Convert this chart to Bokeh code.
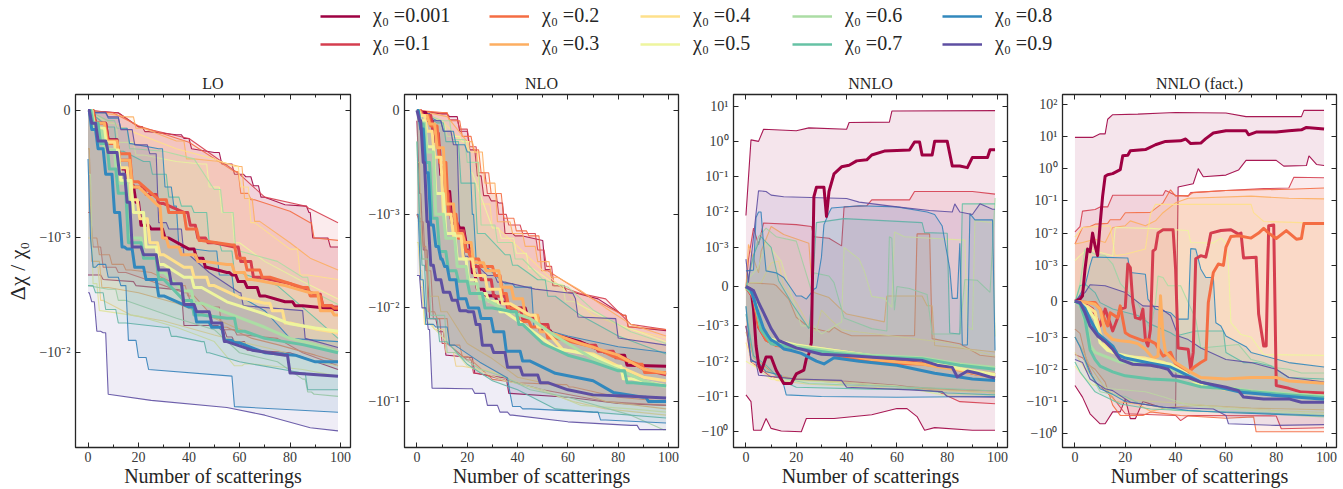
import math
from bokeh.embed import file_html
from bokeh.resources import INLINE
from bokeh.plotting import figure
from bokeh.layouts import column, row
from bokeh.models import Range1d, LinearAxis, FixedTicker, Legend, LegendItem

CHI = ["0.001", "0.1", "0.2", "0.3", "0.4", "0.5", "0.6", "0.7", "0.8", "0.9"]
KEYS = ["001", "01", "02", "03", "04", "05", "06", "07", "08", "09"]
COLORS = ["#9e0142", "#d53e4f", "#f46d43", "#fdae61", "#fee08b", "#eef59e", "#abdda4", "#66c2a5", "#3288bd", "#5e4fa2"]
PANELS = ["LO", "NLO", "NNLO", "NNLO (fact.)"]
XTICKS = [0, 20, 40, 60, 80, 100]
XMINOR = [10, 30, 50, 70, 90]
YT_LO = [0, -1e-3, -1e-2]
YT_NLO = [0, -1e-3, -1e-2, -1e-1]
YT_NN = [10, 1, 1e-1, 1e-2, 1e-3, 0, -1e-3, -1e-2, -1e-1, -1]
YT_FA = [100, 10, 1, 1e-1, 1e-2, 1e-3, 0, -1e-3, -1e-2, -1e-1, -1]
SUP = {10: "10¹", 100: "10²", 1: "10⁰", 1e-1: "10⁻¹", 1e-2: "10⁻²", 1e-3: "10⁻³"}

# ---------- LO ----------
LO_001_HI = [(0,0),(12,-1.8e-5),(20,-1.27e-4),(24,-1.66e-4),(35,-1.9e-4),(40,-2.2e-4),(41,-3e-4),(50,-3.3e-4),(55,-4.2e-4),(60,-5e-4),(64,-5.2e-4),(66,-5.9e-4),(70,-6.8e-4),(78,-7.4e-4),(86,-7.5e-4),(88,-8e-4),(89,-1e-3),(92,-1e-3),(99,-1.2e-3)]
LO_001_LO = [(0,-2.1e-3),(5,-2.1e-3),(6,-2.3e-3),(18,-2.4e-3),(19,-2.6e-3),(37,-2.85e-3),(38,-5.8e-3),(50,-5.8e-3),(54,-6.3e-3),(55,-7.3e-3),(60,-8e-3),(65,-9.5e-3),(80,-1e-2),(99,-1.4e-2)]
LO_001_MED = [(0,0),(5,-1e-4),(10,-2.3e-4),(14,-4.6e-4),(17,-5.9e-4),(20,-7.2e-4),(21,-9e-4),(28,-9.3e-4),(32,-1e-3),(40,-1.25e-3),(45,-1.5e-3),(47,-1.8e-3),(55,-2e-3),(58,-2.1e-3),(60,-2.4e-3),(65,-2.7e-3),(70,-3.2e-3),(78,-3.6e-3),(85,-3.9e-3),(95,-4.1e-3),(99,-4.2e-3)]
LO_01_HI = [(0,0),(12,-2e-5),(20,-1.3e-4),(40,-2.2e-4),(60,-5e-4),(70,-6.8e-4),(86,-7.5e-4),(88,-7.7e-4),(99,-8.8e-4)]
LO_01_LO = [(0,-8e-4),(3,-1.2e-3),(8,-1.8e-3),(15,-2e-3),(30,-2.6e-3),(38,-3e-3),(42,-3.6e-3),(50,-4e-3),(55,-6.3e-3),(62,-7e-3),(75,-7.5e-3),(85,-1e-2),(99,-1.3e-2)]
LO_01_MED = [(0,0),(5,-1e-4),(10,-2.4e-4),(14,-3.9e-4),(20,-6e-4),(25,-6.6e-4),(30,-7.3e-4),(38,-8e-4),(42,-9e-4),(44,-1e-3),(50,-1.1e-3),(58,-1.2e-3),(62,-1.6e-3),(68,-2.2e-3),(80,-2.5e-3),(90,-3.1e-3),(95,-3.9e-3),(99,-4e-3)]
LO_02_HI = [(0,0),(10,-2e-5),(20,-1.2e-4),(40,-2.5e-4),(58,-4.8e-4),(62,-6.5e-4),(66,-7e-4),(80,-7.9e-4),(88,-8.8e-4),(90,-1e-3),(99,-1.05e-3)]
LO_02_LO = [(0,-3e-4),(2,-1e-3),(6,-1.4e-3),(12,-1.7e-3),(17,-1.9e-3),(25,-2e-3),(36,-2.6e-3),(42,-3.2e-3),(50,-5e-3),(55,-6e-3),(65,-7.5e-3),(75,-8.5e-3),(90,-1.05e-2),(99,-1.2e-2)]
LO_02_MED = [(0,0),(5,-1.6e-4),(10,-2.6e-4),(14,-3.4e-4),(20,-5.6e-4),(28,-7e-4),(35,-8e-4),(42,-9.3e-4),(45,-1.05e-3),(57,-1.15e-3),(60,-1.5e-3),(65,-1.9e-3),(72,-2.2e-3),(85,-2.7e-3),(90,-3.2e-3),(95,-3.9e-3),(99,-4.1e-3)]
LO_03_HI = [(0,0),(15,-5e-5),(22,-1.4e-4),(35,-2.4e-4),(42,-3.8e-4),(52,-4e-4),(60,-4.4e-4),(63,-6.9e-4),(68,-8.7e-4),(80,-1.1e-3),(88,-1.5e-3),(99,-1.9e-3)]
LO_03_LO = [(0,-3e-4),(2,-1.6e-3),(8,-2.7e-3),(20,-3e-3),(35,-3.7e-3),(50,-5e-3),(58,-6e-3),(70,-7.5e-3),(85,-8.5e-3),(99,-1e-2)]
LO_03_MED = [(0,0),(4,-1e-4),(10,-2.4e-4),(14,-3.9e-4),(20,-6e-4),(28,-7.5e-4),(30,-1e-3),(33,-1.2e-3),(40,-1.4e-3),(46,-1.6e-3),(55,-1.7e-3),(60,-2e-3),(65,-2.3e-3),(78,-2.6e-3),(88,-3e-3),(95,-4.3e-3),(99,-4.7e-3)]
LO_04_HI = [(0,0),(10,-1e-4),(18,-1.7e-4),(35,-3e-4),(50,-3.8e-4),(58,-4.4e-4),(62,-6e-4),(66,-8.8e-4),(80,-1.25e-3),(87,-2.1e-3),(99,-2.3e-3)]
LO_04_LO = [(0,-1e-3),(3,-1.8e-3),(6,-3.5e-3),(17,-4.7e-3),(30,-5.3e-3),(50,-7e-3),(60,-8e-3),(75,-9.5e-3),(90,-1.2e-2),(99,-1.3e-2)]
LO_04_MED = [(0,0),(4,-1.4e-4),(8,-2.5e-4),(14,-4.5e-4),(18,-7e-4),(22,-8.5e-4),(26,-1.1e-3),(30,-1.4e-3),(38,-1.8e-3),(45,-2.2e-3),(50,-2.6e-3),(60,-3.3e-3),(70,-3.7e-3),(75,-4.3e-3),(80,-5.5e-3),(90,-6.2e-3),(99,-6.7e-3)]
LO_05_HI = [(0,0),(8,-1e-4),(15,-2.5e-4),(22,-3.5e-4),(35,-4e-4),(45,-4.2e-4),(50,-6e-4),(55,-8e-4),(60,-1.1e-3),(70,-1.6e-3),(85,-2.4e-3),(99,-3.4e-3)]
LO_05_LO = [(0,-5e-4),(3,-2.5e-3),(5,-4.3e-3),(20,-4.8e-3),(35,-6e-3),(50,-8e-3),(58,-1.3e-2),(65,-1.25e-2),(85,-1.4e-2),(99,-1.6e-2)]
LO_05_MED = [(0,0),(4,-1.4e-4),(10,-3.1e-4),(15,-5.5e-4),(20,-8e-4),(25,-1.2e-3),(30,-1.7e-3),(38,-2.2e-3),(45,-2.7e-3),(55,-3.6e-3),(70,-4.6e-3),(80,-5.6e-3),(90,-6.1e-3),(99,-6.5e-3)]
LO_06_HI = [(0,0),(8,-8e-5),(14,-1.4e-4),(18,-3e-4),(30,-3.2e-4),(42,-3.8e-4),(50,-6.2e-4),(56,-8e-4),(60,-1.3e-3),(75,-1.6e-3),(85,-2.2e-3),(90,-3e-3),(99,-3.8e-3)]
LO_06_LO = [(0,-2.6e-3),(8,-2.8e-3),(15,-3.5e-3),(35,-5e-3),(50,-6.3e-3),(60,-1e-2),(75,-1.2e-2),(85,-1.7e-2),(88,-2.2e-2),(90,-2.3e-2),(99,-2.4e-2)]
LO_06_MED = [(0,0),(4,-1.6e-4),(8,-3.1e-4),(14,-5.7e-4),(18,-1e-3),(25,-1.4e-3),(30,-2e-3),(38,-2.9e-3),(45,-3.7e-3),(55,-4.5e-3),(70,-6e-3),(80,-7.5e-3),(90,-8.5e-3),(99,-9.8e-3)]
LO_07_HI = [(0,0),(8,-1.3e-4),(14,-3.2e-4),(22,-4e-4),(28,-5e-4),(35,-6.8e-4),(38,-7.5e-4),(45,-8e-4),(50,-1.1e-3),(55,-1.3e-3),(60,-2e-3),(75,-2.6e-3),(90,-5e-3),(99,-7.5e-3)]
LO_07_LO = [(0,-2.6e-3),(5,-3e-3),(8,-4.2e-3),(15,-5.5e-3),(30,-6e-3),(35,-7.2e-3),(45,-8e-3),(48,-1e-2),(60,-1.2e-2),(85,-1.5e-2),(88,-2.1e-2),(99,-2.1e-2)]
LO_07_MED = [(0,0),(3,-1e-4),(6,-2.6e-4),(10,-4.6e-4),(13,-6.5e-4),(18,-1.1e-3),(25,-1.5e-3),(30,-2.3e-3),(38,-3.5e-3),(45,-4.7e-3),(55,-5e-3),(62,-6.5e-3),(70,-7.5e-3),(85,-8.5e-3),(99,-1e-2)]
LO_08_HI = [(0,0),(5,-2e-5),(10,-6e-5),(15,-1.4e-4),(17,-2.6e-4),(28,-3e-4),(32,-6e-4),(35,-7.5e-4),(36,-1.2e-3),(48,-1.3e-3),(55,-2.1e-3),(60,-3.2e-3),(70,-4.3e-3),(80,-7.5e-3),(99,-8e-3)]
LO_08_LO = [(0,-3.8e-4),(1,-1e-3),(2,-1.8e-3),(5,-1.7e-3),(10,-2.2e-3),(15,-2.6e-3),(16,-7.8e-3),(23,-1.1e-2),(24,-1.4e-2),(57,-1.6e-2),(58,-2.95e-2),(99,-3.3e-2)]
LO_08_MED = [(0,0),(2,-1.5e-4),(5,-3e-4),(8,-5e-4),(12,-8e-4),(14,-1.2e-3),(16,-1.25e-3),(20,-1.8e-3),(25,-2.3e-3),(30,-3.2e-3),(40,-4e-3),(45,-5.4e-3),(52,-6e-3),(55,-7.8e-3),(60,-8.2e-3),(70,-1e-2),(82,-1.05e-2),(90,-1.2e-2),(99,-1.2e-2)]
LO_09_HI = [(0,0),(5,-1.5e-5),(10,-5e-5),(15,-1.5e-4),(21,-2.7e-4),(27,-3.4e-4),(28,-8.8e-4),(35,-9.3e-4),(40,-1.4e-3),(48,-2e-3),(60,-3e-3),(62,-3.9e-3),(85,-4.3e-3),(86,-7.5e-3),(99,-9e-3)]
LO_09_LO = [(0,-3e-3),(2,-3.6e-3),(4,-6.5e-3),(7,-6.7e-3),(8,-2.3e-2),(25,-2.6e-2),(55,-3e-2),(70,-3.5e-2),(88,-4.5e-2),(99,-4.8e-2)]
LO_09_MED = [(0,0),(2,-1e-4),(5,-2.4e-4),(10,-3.3e-4),(14,-5e-4),(16,-7.2e-4),(18,-1.2e-3),(25,-1.4e-3),(30,-1.9e-3),(35,-2.5e-3),(40,-3.8e-3),(45,-4.4e-3),(52,-5.5e-3),(55,-8e-3),(65,-9.5e-3),(78,-1.05e-2),(81,-1.5e-2),(99,-1.6e-2)]

# ---------- NLO ----------
NLO_001_HI = [(0,0),(10,-3.5e-5),(15,-6e-5),(18,-2e-4),(23,-3.8e-4),(24,-6.3e-4),(28,-8.2e-4),(30,-8.7e-4),(34,-8.9e-4),(35,-1.6e-3),(42,-1.7e-3),(50,-1.9e-3),(51,-3.9e-3),(56,-5.8e-3),(62,-6.8e-3),(72,-8e-3),(82,-1.2e-2),(85,-1.6e-2),(99,-1.75e-2)]
NLO_001_LO = [(0,-1e-4),(1,-8e-4),(3,-2.4e-3),(6,-1.3e-2),(10,-1.8e-2),(12,-3.2e-2),(22,-3.4e-2),(23,-5e-2),(35,-5.6e-2),(37,-8.2e-2),(60,-9e-2),(80,-1.05e-1),(99,-1.1e-1)]
NLO_001_MED = [(0,0),(3,-2e-5),(5,-1e-4),(8,-3e-4),(10,-6.2e-4),(12,-7.8e-4),(15,-1.25e-3),(18,-1.4e-3),(20,-2e-3),(23,-4.2e-3),(24,-6.3e-3),(30,-7.4e-3),(33,-8.7e-3),(40,-1e-2),(47,-1.25e-2),(50,-1.75e-2),(57,-2e-2),(65,-2.3e-2),(75,-3e-2),(82,-3.2e-2),(84,-4.1e-2),(99,-4.2e-2)]
NLO_01_HI = [(0,0),(10,-3e-5),(15,-9e-5),(18,-1.8e-4),(23,-3.5e-4),(25,-6e-4),(30,-8e-4),(34,-1e-3),(38,-1.3e-3),(45,-1.6e-3),(50,-2.4e-3),(52,-3.6e-3),(56,-5.8e-3),(65,-7e-3),(75,-8e-3),(85,-1.5e-2),(99,-1.7e-2)]
NLO_01_LO = [(0,-1e-3),(1,-1.2e-3),(5,-4e-3),(7,-1.3e-2),(12,-2.4e-2),(20,-3.6e-2),(24,-5e-2),(36,-6e-2),(50,-7.5e-2),(75,-1e-1),(99,-1.1e-1)]
NLO_01_MED = [(0,0),(4,-5e-5),(8,-2.2e-4),(10,-5.5e-4),(12,-8e-4),(14,-1.1e-3),(18,-1.5e-3),(20,-2.4e-3),(23,-3.6e-3),(27,-5e-3),(33,-7.5e-3),(38,-1e-2),(45,-1.3e-2),(50,-1.5e-2),(55,-2e-2),(68,-2.5e-2),(75,-2.9e-2),(82,-3.4e-2),(90,-4.5e-2),(99,-5.2e-2)]
NLO_02_HI = [(0,0),(10,-2e-5),(15,-1e-4),(20,-2.5e-4),(24,-3.8e-4),(26,-6e-4),(32,-8e-4),(36,-1.1e-3),(42,-1.5e-3),(46,-1.7e-3),(52,-4e-3),(60,-5.5e-3),(68,-7.5e-3),(82,-1.2e-2),(85,-1.6e-2),(99,-1.7e-2)]
NLO_02_LO = [(0,-1e-3),(1,-1.1e-3),(3,-2.2e-3),(5,-1.1e-2),(10,-1.3e-2),(15,-2.5e-2),(20,-3.3e-2),(30,-5.8e-2),(40,-6.3e-2),(58,-6.6e-2),(62,-7e-2),(80,-9e-2),(99,-1e-1)]
NLO_02_MED = [(0,0),(3,-5e-5),(7,-1.5e-4),(10,-5e-4),(14,-1e-3),(18,-1.8e-3),(20,-2.5e-3),(22,-3e-3),(28,-3.6e-3),(33,-4.5e-3),(34,-7e-3),(38,-1e-2),(42,-1.4e-2),(48,-1.6e-2),(55,-2.1e-2),(70,-2.6e-2),(78,-3.3e-2),(88,-4e-2),(92,-4.9e-2),(99,-4.9e-2)]
NLO_03_HI = [(0,0),(12,-6e-5),(20,-3e-4),(25,-4e-4),(28,-7e-4),(35,-1.2e-3),(40,-1.6e-3),(45,-2.2e-3),(50,-3.2e-3),(56,-4.7e-3),(65,-6.5e-3),(75,-1e-2),(85,-1.5e-2),(99,-2e-2)]
NLO_03_LO = [(0,-5e-4),(3,-3e-3),(6,-7.5e-3),(12,-1.1e-2),(20,-2.4e-2),(30,-3.5e-2),(40,-5.5e-2),(50,-6.3e-2),(65,-8e-2),(75,-1e-1),(99,-1.2e-1)]
NLO_03_MED = [(0,0),(3,-5e-5),(6,-1.3e-4),(9,-3.6e-4),(13,-9e-4),(17,-1.6e-3),(20,-2e-3),(24,-3.3e-3),(30,-4e-3),(36,-6e-3),(40,-8e-3),(45,-1.2e-2),(52,-1.8e-2),(65,-2.4e-2),(80,-3.2e-2),(90,-4.5e-2),(99,-5e-2)]
NLO_04_HI = [(0,0),(10,-1e-4),(18,-3e-4),(22,-4e-4),(27,-9e-4),(32,-1.4e-3),(40,-2.2e-3),(50,-4e-3),(60,-7e-3),(70,-1.2e-2),(85,-1.7e-2),(99,-2.1e-2)]
NLO_04_LO = [(0,-2e-3),(2,-6e-3),(3,-1.5e-2),(10,-1.7e-2),(12,-3e-2),(18,-4.2e-2),(30,-4.8e-2),(45,-7e-2),(62,-1e-1),(75,-1.2e-1),(99,-1.4e-1)]
NLO_04_MED = [(0,0),(2,-5e-5),(5,-2e-4),(8,-4.5e-4),(12,-1e-3),(16,-1.7e-3),(20,-3e-3),(25,-4.5e-3),(30,-6.3e-3),(37,-9e-3),(45,-1.2e-2),(50,-1.6e-2),(58,-2.8e-2),(70,-3.1e-2),(80,-4.2e-2),(90,-5.5e-2),(99,-6e-2)]
NLO_05_HI = [(0,0),(8,-1.4e-4),(15,-2.5e-4),(20,-3e-4),(22,-6e-4),(30,-1.4e-3),(36,-1.8e-3),(42,-2.6e-3),(46,-3.8e-3),(55,-5.6e-3),(62,-8.5e-3),(80,-1.5e-2),(99,-2.3e-2)]
NLO_05_LO = [(0,-2e-3),(2,-4e-3),(3,-1.3e-2),(12,-2.3e-2),(20,-4.2e-2),(35,-6e-2),(50,-7.5e-2),(65,-1.1e-1),(85,-1.2e-1),(99,-1.3e-1)]
NLO_05_MED = [(0,0),(2,-1e-4),(5,-3.5e-4),(9,-8e-4),(13,-1.6e-3),(18,-3e-3),(22,-5e-3),(26,-7e-3),(30,-8.5e-3),(35,-1.1e-2),(45,-1.7e-2),(55,-2.7e-2),(70,-3.2e-2),(78,-4.2e-2),(85,-5.7e-2),(99,-6.8e-2)]
NLO_06_HI = [(0,0),(10,-1e-4),(17,-2.8e-4),(22,-5e-4),(28,-1.3e-3),(35,-2e-3),(42,-3e-3),(50,-5e-3),(60,-6e-3),(70,-1.05e-2),(85,-1.8e-2),(99,-2.4e-2)]
NLO_06_LO = [(0,-3e-4),(1,-1.5e-3),(2,-3e-3),(8,-1.2e-2),(15,-3e-2),(25,-4.5e-2),(35,-5.5e-2),(45,-7.5e-2),(60,-9e-2),(85,-1.4e-1),(98,-2e-1),(99,-2e-1)]
NLO_06_MED = [(0,0),(2,-1.2e-4),(5,-4e-4),(9,-1e-3),(13,-1.8e-3),(18,-3.6e-3),(22,-5.5e-3),(27,-8e-3),(35,-1.05e-2),(45,-1.3e-2),(55,-2e-2),(70,-3.5e-2),(82,-4.8e-2),(90,-6e-2),(99,-7e-2)]
NLO_07_HI = [(0,0),(8,-1.2e-4),(14,-3e-4),(20,-7e-4),(27,-1.6e-3),(35,-2.7e-3),(40,-3.5e-3),(48,-5e-3),(55,-7.5e-3),(65,-1.2e-2),(80,-2e-2),(99,-3.1e-2)]
NLO_07_LO = [(0,-3e-4),(1,-1e-3),(2,-3.5e-3),(5,-1.3e-2),(12,-2.3e-2),(20,-4e-2),(30,-6e-2),(40,-7.5e-2),(55,-1.2e-1),(70,-1.3e-1),(99,-1.5e-1)]
NLO_07_MED = [(0,0),(2,-1.3e-4),(4,-5e-4),(7,-1.1e-3),(10,-2.5e-3),(14,-4e-3),(18,-5.2e-3),(23,-7e-3),(30,-1e-2),(38,-1.1e-2),(42,-1.5e-2),(50,-2.4e-2),(60,-3.2e-2),(70,-3.8e-2),(80,-4.7e-2),(86,-6.3e-2),(99,-6.8e-2)]
NLO_08_HI = [(0,0),(8,-1e-4),(12,-2e-4),(18,-3.3e-4),(21,-4e-4),(22,-1e-3),(24,-3e-3),(35,-5.5e-3),(42,-6e-3),(45,-6e-3),(47,-1.6e-2),(60,-2e-2),(80,-2.6e-2),(99,-3e-2)]
NLO_08_LO = [(0,-1e-3),(2,-5e-3),(4,-1.5e-2),(10,-1.6e-2),(15,-2.5e-2),(25,-3.8e-2),(36,-5.6e-2),(37,-8.2e-2),(38,-1.13e-1),(45,-1.2e-1),(70,-1.3e-1),(75,-1.58e-1),(99,-1.7e-1)]
NLO_08_MED = [(0,0),(2,-1.8e-4),(4,-6e-4),(6,-1.3e-3),(8,-2.2e-3),(10,-3e-3),(11,-3.6e-3),(14,-5e-3),(18,-8e-3),(22,-1e-2),(28,-1.3e-2),(32,-1.8e-2),(38,-2.9e-2),(45,-3.7e-2),(55,-5e-2),(70,-6e-2),(78,-8e-2),(90,-9e-2),(93,-1e-1),(99,-1e-1)]
NLO_09_HI = [(0,0),(3,-3e-5),(8,-1e-4),(12,-2e-4),(16,-3.3e-4),(17,-1.7e-3),(20,-2.8e-3),(28,-4.5e-3),(35,-5.3e-3),(47,-6.3e-3),(62,-7e-3),(63,-8e-3),(64,-1.25e-2),(79,-1.3e-2),(80,-2.1e-2),(99,-2.5e-2)]
NLO_09_LO = [(0,-4.5e-3),(3,-1e-2),(5,-1.7e-2),(6,-7.2e-2),(20,-7.3e-2),(25,-8.2e-2),(30,-1.1e-1),(35,-1.3e-1),(38,-1.4e-1),(60,-1.65e-1),(85,-1.8e-1),(91,-2e-1),(99,-2e-1)]
NLO_09_MED = [(0,0),(1,-1e-4),(3,-5e-4),(4,-1.2e-3),(6,-3.5e-3),(8,-5e-3),(12,-6.8e-3),(15,-8.3e-3),(18,-1.07e-2),(22,-1.1e-2),(24,-1.5e-2),(27,-2.5e-2),(33,-3e-2),(38,-4.3e-2),(45,-5.2e-2),(52,-6.3e-2),(60,-7.5e-2),(70,-8.5e-2),(85,-8.8e-2),(99,-9.2e-2)]

# ---------- NNLO ----------
NN_001_HI = [(0,8e-3),(2,1.1),(5,1),(7,2.2),(20,2),(25,2.4),(40,2.2),(41,3.4),(57,3.5),(58,7.2),(99,7.4)]
NN_001_LO = [(0,-9e-2),(2,-1.4e-1),(3,-9e-1),(6,-9e-1),(8,-4.2e-1),(10,-8e-1),(14,-9.5e-1),(22,-1),(24,-4.2e-1),(35,-4.2e-1),(50,-3.3e-1),(60,-2.2e-1),(64,-2.2e-1),(68,-3.7e-1),(71,-9e-1),(75,-7.6e-1),(90,-9e-1),(99,-9e-1)]
NN_001_MED = [(0,0),(2,-6.7e-5),(3,-5.7e-4),(4,-3.6e-3),(5,-1.2e-2),(6,-2e-2),(8,-7.6e-3),(10,-7.6e-3),(12,-1.8e-2),(15,-4.3e-2),(18,-4.3e-2),(20,-2.3e-2),(23,-1.8e-2),(24,-8.5e-3),(25,-6.2e-3),(26,-3e-3),(27,2.7e-2),(28,5e-2),(31,5e-2),(32,7.5e-3),(33,3.8e-2),(35,1.2e-1),(38,1.9e-1),(41,2.1e-1),(44,2.8e-1),(48,3e-1),(50,4.1e-1),(55,5.3e-1),(65,5.7e-1),(67,9.6e-1),(69,9.6e-1),(70,4.1e-1),(74,4.1e-1),(75,1),(80,1),(82,2e-1),(85,2e-1),(88,1.8e-1),(90,3.5e-1),(96,3.5e-1),(97,5.8e-1),(99,5.8e-1)]
NN_01_HI = [(0,-5e-5),(1,7e-4),(3,3.5e-3),(5,1.2e-3),(7,4.9e-3),(20,4.4e-3),(26,3.9e-3),(27,2e-3),(33,1.8e-3),(38,1.1e-3),(39,1.4e-2),(48,1.5e-2),(50,2.2e-2),(65,2.2e-2),(67,3.8e-2),(90,3.8e-2),(99,3.2e-2)]
NN_01_LO = [(0,-1e-3),(2,-1.05e-2),(5,-1.5e-2),(10,-2.8e-2),(20,-3.3e-2),(40,-3.7e-2),(60,-4.8e-2),(75,-6.6e-2),(85,-1.4e-1),(99,-1.6e-1)]
NN_01_MED = [(0,0),(3,-3e-4),(5,-1.1e-3),(8,-2.5e-3),(12,-3.5e-3),(20,-4e-3),(28,-4.5e-3),(35,-6e-3),(42,-8e-3),(55,-9e-3),(70,-1.1e-2),(80,-1.4e-2),(90,-2.2e-2),(99,-2.8e-2)]
NN_02_HI = [(0,-5e-5),(1,1e-4),(11,6e-5),(12,3e-5),(17,-3.2e-4),(20,-7.8e-4),(25,-1.1e-3),(33,-1.5e-3),(35,-1.1e-3),(38,-1.5e-3),(42,-1.9e-3),(67,-1.9e-3),(68,2.4e-3),(73,2.4e-3),(74,-2.3e-3),(85,-3.2e-3),(93,-6.8e-3),(99,-7.6e-3)]
NN_02_LO = [(0,-1e-3),(3,-8e-3),(8,-1.5e-2),(12,-2.6e-2),(20,-3.3e-2),(40,-4.2e-2),(65,-5.3e-2),(80,-6.3e-2),(99,-7e-2)]
NN_02_MED = [(0,0),(3,-2e-4),(5,-1e-3),(8,-2.5e-3),(12,-3.6e-3),(20,-4.2e-3),(30,-5.5e-3),(45,-9e-3),(55,-1.15e-2),(70,-1.2e-2),(80,-1.5e-2),(99,-2.4e-2)]
NN_03_HI = [(0,-5e-5),(1,1.2e-3),(5,3.5e-4),(6,9e-4),(10,3.9e-3),(15,2.3e-3),(25,1.3e-3),(26,2.3e-4),(27,-1.5e-4),(33,-2.8e-4),(37,-5.3e-4),(40,-7e-4),(55,-9e-4),(56,-2.4e-4),(70,-2.4e-4),(72,-4.9e-4),(74,-4.9e-4),(75,-3.6e-3),(80,-3.9e-3),(90,-4.7e-3),(99,-5.5e-3)]
NN_03_LO = [(0,-1.5e-3),(3,-7e-3),(7,-1.8e-2),(12,-2.4e-2),(18,-3e-2),(40,-4e-2),(70,-6e-2),(99,-8e-2)]
NN_03_MED = [(0,0),(3,-2.5e-4),(6,-1.2e-3),(10,-2.8e-3),(20,-4e-3),(35,-6e-3),(50,-9e-3),(70,-1.2e-2),(85,-1.8e-2),(99,-3e-2)]
NN_04_HI = [(0,-1e-4),(1,1e-4),(6,1e-4),(10,6e-4),(13,6.5e-4),(15,0),(20,-4e-4),(25,-1e-3),(28,-1.4e-3),(30,-6e-4),(33,-8e-4),(38,-1.3e-3),(45,-1.5e-3),(60,-2e-3),(80,-3e-3),(90,-5e-3),(99,-7e-3)]
NN_04_LO = [(0,-3e-3),(3,-1.3e-2),(8,-2e-2),(12,-3.5e-2),(25,-4.5e-2),(50,-5.5e-2),(70,-6.5e-2),(99,-8e-2)]
NN_04_MED = [(0,0),(3,-2e-4),(6,-1e-3),(10,-2.5e-3),(20,-3.6e-3),(35,-5e-3),(50,-7e-3),(70,-9.5e-3),(85,-1.7e-2),(99,-2.6e-2)]
NN_05_HI = [(0,-1e-4),(1,2e-4),(5,5e-4),(8,1.4e-3),(12,8e-4),(14,6.5e-4),(18,-2e-4),(22,-1e-3),(27,-1e-3),(30,-1.7e-3),(38,-9e-4),(39,1e-3),(45,7e-4),(47,4e-4),(50,-2.5e-4),(55,-3e-4),(58,-5.3e-4),(59,2.7e-3),(63,2e-3),(87,1.6e-3),(88,-1e-3),(90,-1.3e-3),(91,5.7e-3),(98,5e-3),(99,-2e-3)]
NN_05_LO = [(0,-1e-2),(4,-1.5e-2),(10,-3.3e-2),(30,-3.8e-2),(60,-5e-2),(78,-9e-2),(99,-9e-2)]
NN_05_MED = [(0,0),(3,-2e-4),(6,-1.1e-3),(10,-2.4e-3),(20,-3.5e-3),(35,-5e-3),(50,-7e-3),(70,-9e-3),(85,-1.6e-2),(99,-2.4e-2)]
NN_06_HI = [(0,-5e-5),(2,5e-4),(5,2e-3),(8,3.5e-3),(12,2e-3),(20,1.5e-3),(26,-1e-4),(27,3.5e-4),(33,2.7e-4),(35,1e-4),(39,-8e-4),(50,-1.2e-3),(56,-1.4e-3),(57,2e-3),(58,1.8e-3),(59,-6e-4),(60,0),(65,-5e-5),(72,-2e-4),(74,-1.7e-3),(85,-1.7e-3),(87,1.8e-4),(92,1.6e-4),(97,-1.5e-4),(99,2.5e-2)]
NN_06_LO = [(0,-5e-4),(3,-8e-3),(8,-1.7e-2),(14,-3e-2),(25,-4.3e-2),(50,-5e-2),(80,-6e-2),(99,-7e-2)]
NN_06_MED = [(0,0),(3,-2e-4),(6,-1.1e-3),(10,-2.7e-3),(20,-3.8e-3),(35,-5.3e-3),(50,-6.8e-3),(70,-8e-3),(85,-1.2e-2),(99,-1.5e-2)]
NN_07_HI = [(0,-5e-5),(3,8e-4),(6,2e-3),(10,1e-3),(13,1.5e-4),(18,-4e-4),(25,-1.2e-3),(26,-5e-4),(28,5e-3),(39,6.5e-3),(70,5e-3),(71,2.6e-3),(80,2.5e-3),(81,-1.6e-3),(85,-1.7e-3),(86,1.7e-2),(99,1.7e-2)]
NN_07_LO = [(0,-7e-4),(3,-7e-3),(8,-1.3e-2),(14,-3.5e-2),(20,-5.5e-2),(50,-6.2e-2),(66,-6.2e-2),(80,-8e-2),(99,-9e-2)]
NN_07_MED = [(0,0),(3,-2.2e-4),(6,-1.3e-3),(10,-3.2e-3),(20,-4.3e-3),(35,-6e-3),(50,-7.5e-3),(70,-8.5e-3),(85,-1.3e-2),(99,-1.7e-2)]
NN_08_HI = [(0,4e-4),(3,4.2e-4),(4,7e-3),(5,1e-2),(6,1e-2),(7,1.2e-3),(8,4e-4),(12,3.5e-4),(15,2.3e-4),(20,-2.4e-4),(22,-2.4e-4),(24,-3.2e-4),(27,-7e-5),(28,-3e-5),(30,7.5e-4),(31,4.4e-3),(33,9.5e-3),(34,1.3e-2),(45,1.5e-2),(60,1.4e-2),(72,1e-2),(75,8.5e-3),(78,4e-3),(81,4.5e-4),(82,-3e-4),(84,-3e-4),(85,1.3e-3),(86,-3.5e-3),(88,-3.5e-3),(89,9e-3),(91,6e-3),(98,6e-3),(99,-5e-3)]
NN_08_LO = [(0,-5e-4),(2,-1e-2),(5,-1.1e-2),(8,-2e-2),(14,-2.5e-2),(16,-9e-2),(30,-1e-1),(60,-1.05e-1),(99,-1e-1)]
NN_08_MED = [(0,0),(2,-8e-5),(4,-5e-4),(7,-1.2e-3),(9,-2e-3),(10,-2.5e-3),(12,-3e-3),(15,-4.5e-3),(18,-5e-3),(22,-6e-3),(28,-1e-2),(31,-1.2e-2),(35,-8e-3),(45,-1e-2),(60,-1.3e-2),(75,-2.2e-2),(90,-3.2e-2),(99,-3.5e-2)]
NN_09_HI = [(0,7e-4),(1,1e-4),(3,2e-3),(5,4e-2),(8,3.8e-2),(10,3e-2),(15,2.7e-2),(40,2.4e-2),(45,1.9e-2),(60,1.4e-2),(73,1.1e-2),(82,1e-2),(83,1.7e-2),(85,1e-2),(90,8.5e-3),(93,1.7e-2),(98,1.2e-2),(99,1.2e-2)]
NN_09_LO = [(0,-1e-3),(2,-9e-3),(4,-1.1e-2),(5,-2.5e-2),(20,-3.2e-2),(38,-3.5e-2),(40,-5.5e-2),(65,-6.5e-2),(78,-7.3e-2),(80,-1e-1),(99,-1.05e-1)]
NN_09_MED = [(0,0),(3,-1e-4),(5,-4e-4),(8,-8e-4),(10,-1.2e-3),(13,-2.6e-3),(20,-4.2e-3),(30,-6.4e-3),(40,-6.9e-3),(55,-8.1e-3),(70,-9.5e-3),(76,-1.3e-2),(82,-1.5e-2),(84,-2.8e-2),(88,-1.9e-2),(92,-2.2e-2),(97,-2.8e-2),(99,-3e-2)]

# ---------- NNLO (fact.) ----------
FA_001_HI = [(0,9.3),(7,9.3),(10,12),(12,12),(13,34),(15,47),(25,49),(35,53),(40,55),(60,53),(68,41),(90,41),(91,64),(99,64)]
FA_001_LO = [(0,-3.2e-2),(3,-7.3e-2),(6,-2.4e-1),(10,-4.9e-1),(12,-4.9e-1),(15,-2.1e-1),(18,-2.1e-1),(20,-8.3e-2),(22,-3.4e-1),(24,-3.4e-1),(27,-1e-1),(35,-1.6e-1),(40,-1.5e-1),(41,2.7e-1),(47,3.4e-1),(49,1),(51,5.6e-1),(60,6.3e-1),(65,9e-1),(68,1.8),(80,1.8),(83,1.2),(92,1.25),(93,2.5),(96,1.35),(99,1.25)]
FA_001_MED = [(0,0),(2,5.6e-5),(3,1.5e-4),(4,9e-4),(5,3.2e-3),(6,2.65e-3),(7,1e-2),(8,4e-3),(9,2e-3),(10,1.9e-2),(11,1.4e-1),(12,5.8e-1),(13,6.5e-1),(15,7e-1),(18,9.3e-1),(19,2.5),(21,2.6),(22,3.6),(28,3.9),(32,5.5),(36,7),(42,7.3),(44,8.3),(46,6),(50,6.2),(52,8.5),(55,12.7),(60,15),(68,15),(69,11.2),(72,13.6),(80,13.6),(85,15),(90,16),(92,19),(99,17)]
FA_01_HI = [(0,1.1e-2),(2,1.6e-2),(3,4.8e-2),(8,5.4e-2),(10,6.5e-2),(13,6.5e-2),(15,1.5e-1),(35,1.5e-1),(36,2.1e-1),(40,1.5e-1),(45,1.4e-1),(46,1.8e-1),(60,2.1e-1),(75,2.4e-1),(85,2.5e-1),(87,5.4e-1),(99,5.2e-1)]
FA_01_LO = [(0,-3.5e-3),(3,-4.4e-3),(5,-7e-3),(8,-2.5e-2),(15,-7.5e-2),(20,-2.4e-1),(40,-2.7e-1),(42,-3.9e-1),(45,-2.7e-1),(80,-2.8e-1),(82,-7e-1),(99,-6.5e-1)]
FA_01_MED = [(0,0),(4,-8.4e-5),(7,-2.2e-4),(10,-6.9e-4),(12,-2.2e-4),(15,-8.3e-4),(17,-4.6e-4),(18,-2.2e-4),(20,-1.8e-4),(21,1.1e-3),(22,9.4e-4),(23,-3.7e-5),(24,-4.6e-4),(26,-5e-4),(27,-2.2e-4),(28,-1.2e-3),(29,-1.9e-3),(30,-7.9e-4),(31,2.8e-3),(32,3.2e-3),(33,1e-2),(35,1.27e-2),(39,1.27e-2),(40,9e-4),(41,-2.2e-3),(45,-2.4e-3),(46,-1e-2),(47,-3e-3),(48,1.6e-3),(50,2e-3),(52,1.8e-3),(53,4e-3),(54,1e-2),(58,1.2e-2),(62,1.27e-2),(65,9.3e-3),(66,1e-2),(67,1.7e-3),(72,1.8e-3),(73,-3.6e-4),(75,-1.9e-3),(76,-1.9e-3),(77,1.7e-2),(79,1.8e-2),(80,-3.2e-2),(85,-3.9e-2),(90,-5.1e-2),(99,-5.4e-2)]
FA_02_HI = [(0,4.6e-3),(3,1.5e-2),(6,1.6e-2),(8,1.9e-2),(13,2e-2),(14,2.6e-2),(18,2.6e-2),(20,4.3e-2),(30,4.4e-2),(35,8.7e-2),(38,2.2e-1),(40,1.4e-1),(45,1.45e-1),(47,1.8e-1),(60,2.1e-1),(85,2.3e-1),(99,2.5e-1)]
FA_02_LO = [(0,-7.8e-4),(2,-9e-4),(5,-7e-3),(8,-1e-2),(12,-2.5e-2),(15,-1.3e-1),(18,-2.7e-1),(27,-2.7e-1),(30,-2.1e-1),(42,-2.7e-1),(60,-3.3e-1),(71,-3e-1),(72,-8.7e-1),(99,-8.7e-1)]
FA_02_MED = [(0,0),(5,-3.7e-5),(8,-3.7e-5),(10,-2.2e-4),(13,-6.9e-4),(14,-3.2e-4),(17,-4.6e-4),(18,-1.3e-4),(20,-8.8e-4),(22,-9.7e-4),(27,-1.3e-3),(29,-1.2e-3),(32,-1.6e-3),(35,-3.9e-3),(38,-3e-3),(40,-7e-3),(43,-1e-2),(45,-1.27e-2),(47,-9e-3),(50,-6.2e-3),(52,-5e-3),(53,-3.7e-5),(55,8e-4),(57,1.1e-3),(59,1e-3),(60,3.6e-3),(62,7.9e-3),(65,8.3e-3),(70,7e-3),(73,1e-2),(75,1.4e-2),(77,1e-2),(80,6.8e-3),(84,1.2e-2),(88,6.5e-3),(90,6.8e-3),(91,2e-2),(99,2e-2)]
FA_03_HI = [(0,4.6e-3),(3,5.1e-3),(8,6.5e-3),(12,5.1e-3),(15,1.5e-2),(20,1.7e-2),(22,2.4e-2),(28,1.7e-2),(32,2.4e-2),(35,4.3e-2),(40,8.7e-2),(45,1.2e-1),(70,1.4e-1),(85,1.2e-1),(99,1.15e-1)]
FA_03_LO = [(0,-1e-3),(3,-2.5e-3),(6,-8e-3),(12,-4e-2),(16,-1e-1),(25,-1.2e-1),(30,-2e-1),(38,-1.5e-1),(50,-1.3e-1),(70,-1.6e-1),(99,-1.8e-1)]
FA_03_MED = [(0,0),(5,-3.7e-5),(8,-8.4e-5),(10,-2.2e-4),(12,-8.8e-4),(15,-1.2e-3),(18,-1.3e-3),(22,-1.4e-3),(25,-1.6e-3),(28,-2.4e-3),(31,-4.6e-3),(33,-3.9e-3),(34,1.5e-4),(35,-9.7e-4),(36,-3e-3),(40,-6.2e-3),(45,-1.1e-2),(50,-1.8e-2),(60,-2e-2),(70,-1.8e-2),(80,-1.8e-2),(85,-2.3e-2),(99,-2.7e-2)]
FA_04_HI = [(0,7.5e-3),(3,1.5e-2),(14,1.7e-2),(16,2e-3),(20,2.2e-3),(28,3.2e-3),(30,3.9e-2),(32,7.8e-2),(70,7.8e-2),(71,4.3e-2),(75,2.3e-2),(99,2e-2)]
FA_04_LO = [(0,-3e-3),(4,-1e-2),(10,-2.5e-2),(15,-6e-2),(22,-9e-2),(40,-1.1e-1),(60,-1.5e-1),(80,-1.9e-1),(99,-2.2e-1)]
FA_04_MED = [(0,0),(5,-1.5e-4),(8,-3e-4),(10,-9e-4),(12,-1.7e-3),(15,-3e-3),(20,-4e-3),(28,-4.5e-3),(35,-6e-3),(40,-9e-3),(43,-1.4e-2),(47,-2.3e-2),(50,-3.2e-2),(60,-4.2e-2),(75,-5.2e-2),(99,-7e-2)]
FA_05_HI = [(0,1.4e-3),(2,2e-3),(5,3.2e-3),(15,2e-3),(16,1.5e-2),(30,1.4e-2),(45,1.2e-2),(46,5.1e-3),(55,5e-3),(58,7e-3),(60,5e-3),(61,1e-3),(62,-6e-4),(66,-9.3e-4),(70,-1e-3),(75,-3.5e-3),(99,-3.7e-3)]
FA_05_LO = [(0,-8e-3),(3,-1.6e-2),(7,-3e-2),(14,-4e-2),(28,-5e-2),(36,-7.5e-2),(45,-1.3e-1),(60,-1.7e-1),(99,-2.5e-1)]
FA_05_MED = [(0,0),(5,-2e-4),(8,-5e-4),(10,-1.5e-3),(13,-2.6e-3),(18,-3.5e-3),(30,-5.5e-3),(38,-7e-3),(44,-1.3e-2),(48,-2.5e-2),(55,-3.5e-2),(70,-5e-2),(85,-6.5e-2),(99,-8.5e-2)]
FA_06_HI = [(0,-4e-5),(2,4.8e-4),(4,3.2e-3),(8,2.2e-3),(12,2e-3),(15,1.1e-3),(18,5e-4),(25,-4e-5),(30,-7.9e-4),(32,-4e-5),(33,7e-4),(35,6.6e-4),(37,4.3e-4),(42,4.3e-4),(48,-5e-4),(50,-2.2e-3),(65,-1.7e-3),(70,-5e-3),(75,-6.2e-3),(80,-9e-3),(85,-1e-2),(90,-1.3e-2),(99,-1.3e-2)]
FA_06_LO = [(0,-1e-3),(2,-2e-3),(5,-1e-2),(10,-5e-2),(17,-6.5e-2),(20,-7e-2),(25,-1.1e-1),(40,-1.9e-1),(70,-2.3e-1),(99,-3e-1)]
FA_06_MED = [(0,0),(2,-1e-4),(5,-8e-4),(6,-1.8e-3),(8,-3e-3),(12,-4e-3),(18,-6e-3),(28,-6.5e-3),(40,-1.1e-2),(47,-2.2e-2),(58,-3.5e-2),(70,-4.7e-2),(85,-5.7e-2),(99,-6.7e-2)]
FA_07_HI = [(0,-4e-5),(2,4.3e-4),(4,4.8e-4),(8,2.4e-4),(10,-4e-5),(15,-2.2e-4),(25,-4e-4),(30,-6.4e-4),(38,-8.8e-4),(40,-9.7e-4),(48,-8.3e-4),(59,-8.3e-4),(60,-3e-3),(67,-6.2e-3),(72,-6.2e-3),(78,-8e-3),(85,-1.8e-2),(99,-2e-2)]
FA_07_LO = [(0,-6e-3),(2,-1.2e-2),(8,-5e-2),(10,-6e-2),(18,-1.2e-1),(30,-1.7e-1),(50,-2e-1),(70,-2.2e-1),(99,-2.7e-1)]
FA_07_MED = [(0,0),(2,-8e-5),(4,-5e-4),(6,-2.5e-3),(8,-5e-3),(10,-8e-3),(15,-1.2e-2),(20,-1.6e-2),(30,-2e-2),(40,-2.2e-2),(50,-3.5e-2),(60,-4e-2),(70,-5e-2),(80,-5.8e-2),(99,-7.5e-2)]
FA_08_HI = [(0,0),(1,5.6e-5),(4,4.3e-4),(6,1e-3),(7,1.8e-3),(9,1.8e-3),(21,1.7e-3),(22,8e-4),(28,7.5e-4),(29,5.6e-5),(32,-2.2e-4),(38,-3.2e-4),(40,-4.6e-4),(41,-5e-4),(45,-5e-4),(46,3.3e-3),(48,3.2e-3),(50,9e-4),(52,6.6e-4),(55,6.6e-4),(56,-6e-4),(58,-6.9e-4),(60,-9.7e-4),(65,-1.5e-3),(68,-2e-3),(70,-3e-3),(85,-6.2e-3),(99,-8.5e-3)]
FA_08_LO = [(0,-1e-3),(2,-2e-3),(6,-1.3e-2),(10,-4e-2),(15,-6e-2),(20,-1e-1),(30,-1.3e-1),(45,-1.9e-1),(60,-2.2e-1),(99,-2.8e-1)]
FA_08_MED = [(0,0),(2,-5e-5),(4,-2e-4),(6,-5e-4),(9,-9e-4),(12,-1.2e-3),(15,-1.9e-3),(17,-3.5e-3),(20,-4.5e-3),(30,-6.5e-3),(38,-8.5e-3),(42,-1.2e-2),(50,-2.5e-2),(60,-4e-2),(66,-5.2e-2),(80,-6.5e-2),(99,-8.5e-2)]
FA_09_HI = [(0,0),(2,1.5e-4),(4,2.4e-4),(6,4.6e-4),(12,4.3e-4),(20,2.4e-4),(27,-1.3e-4),(33,-1.5e-4),(38,-4e-4),(41,-9.7e-4),(45,-1.2e-3),(50,-2.2e-3),(60,-5e-3),(70,-6.2e-3),(80,-1e-2),(85,-1.8e-2),(90,-2e-2),(99,-2.5e-2)]
FA_09_LO = [(0,-5e-3),(3,-6.2e-3),(6,-2e-2),(12,-4e-2),(15,-4.6e-2),(22,-1.05e-1),(35,-1.5e-1),(55,-1.7e-1),(60,-2.7e-1),(61,-4.9e-1),(80,-5.5e-1),(99,-5.2e-1)]
FA_09_MED = [(0,0),(2,-3.7e-5),(4,-3.2e-4),(6,-6.9e-4),(9,-9.7e-4),(12,-1.4e-3),(15,-2.4e-3),(18,-5e-3),(23,-7e-3),(30,-7.5e-3),(33,-8.3e-3),(37,-1e-2),(39,-1.6e-2),(45,-1.8e-2),(50,-2.5e-2),(60,-3.6e-2),(65,-4.6e-2),(67,-7.3e-2),(75,-8.3e-2),(85,-8.3e-2),(90,-1.05e-1),(99,-1.05e-1)]

TH = 1e-3
LIN = 1 / 0.9
SERIF = "Liberation Serif"
INK = "#262626"


def sym(v):
    a = abs(v)
    s = a / TH * LIN if a < TH else LIN + math.log10(a / TH)
    return math.copysign(s, v) if v != 0 else 0.0


def tick_text(v):
    if v == 0:
        return "0"
    return ("−" if v < 0 else "") + SUP[abs(v)]


def path(series, stepped):
    """Axis coordinates of one series; in LO/NLO, readings close together join as a small stair."""
    xs, ys = [], []
    for i, (a, b) in enumerate(series):
        if stepped and i and 1 < a - series[i - 1][0] < 8:
            m = (series[i - 1][0] + a) / 2
            xs += [m - 0.5, m + 0.5]
            ys += [sym(series[i - 1][1]), sym(b)]
        xs.append(a)
        ys.append(sym(b))
    return xs, ys


def panel(prefix, name, yt, yr, w, left, right, stepped, ylabel=None):
    p = figure(width=w, height=425, x_range=Range1d(-4.95, 103.95), y_range=Range1d(*yr),
               output_backend="svg", toolbar_location=None,
               min_border_left=left, min_border_right=right, min_border_top=30, min_border_bottom=40,
               background_fill_color="white", border_fill_color="white")
    p.title.text = name
    p.title.align = "center"
    p.title.text_font = SERIF
    p.title.text_font_size = "16px"
    p.title.text_font_style = "normal"
    p.title.text_color = INK
    p.title.offset = 0
    p.title.standoff = 6
    p.grid.visible = False
    p.outline_line_color = INK
    p.outline_line_width = 1.3

    ticks = [sym(v) for v in yt]
    xt = FixedTicker(ticks=XTICKS, minor_ticks=XMINOR)
    yti = FixedTicker(ticks=ticks)
    ov = {sym(v): tick_text(v) for v in yt}

    for ax in p.xaxis + p.yaxis:
        ax.major_tick_in, ax.major_tick_out = 5, 0
        ax.minor_tick_in, ax.minor_tick_out = 3, 0
        ax.major_tick_line_color = INK
        ax.minor_tick_line_color = INK
        ax.axis_line_color = None
        ax.major_label_text_font = SERIF
        ax.major_label_text_font_size = "14px"
        ax.major_label_text_color = "#3a3a3a"
    p.xaxis.ticker = xt
    p.xaxis.major_label_standoff = 4
    p.xaxis.axis_label = "Number of scatterings"
    p.xaxis.axis_label_text_font = SERIF
    p.xaxis.axis_label_text_font_size = "20px"
    p.xaxis.axis_label_text_font_style = "normal"
    p.xaxis.axis_label_text_color = INK
    p.xaxis.axis_label_standoff = 0
    p.xaxis.axis_label_text_line_height = 0.7
    p.yaxis.ticker = yti
    p.yaxis.major_label_overrides = ov
    p.yaxis.major_label_standoff = 5
    if ylabel:
        p.yaxis.axis_label = ylabel
        p.yaxis.axis_label_text_font = SERIF
        p.yaxis.axis_label_text_font_size = "22px"
        p.yaxis.axis_label_text_font_style = "normal"
        p.yaxis.axis_label_text_color = INK
        p.yaxis.axis_label_standoff = 6

    top = LinearAxis(ticker=xt, major_label_overrides={t: "" for t in XTICKS},
                     major_label_text_font_size="1px", major_tick_in=5, major_tick_out=0,
                     minor_tick_in=3, minor_tick_out=0, axis_line_color=None,
                     major_tick_line_color=INK, minor_tick_line_color=INK, major_label_standoff=0)
    rgt = LinearAxis(ticker=yti, major_label_overrides={t: "" for t in ticks},
                     major_label_text_font_size="1px", major_tick_in=5, major_tick_out=0,
                     minor_tick_in=0, minor_tick_out=0, axis_line_color=None,
                     major_tick_line_color=INK, major_label_standoff=0)
    p.add_layout(top, "above")
    p.add_layout(rgt, "right")

    for key, col in zip(KEYS, COLORS):
        hx, hy = path(globals()[f"{prefix}_{key}_HI"], stepped)
        lx, ly = path(globals()[f"{prefix}_{key}_LO"], stepped)
        p.patch(hx + lx[::-1], hy + ly[::-1], fill_color=col, fill_alpha=0.1, line_color=None)
        p.line(hx, hy, line_color=col, line_width=1.1, line_alpha=0.9)
        p.line(lx, ly, line_color=col, line_width=1.1, line_alpha=0.9)
    for key, col in zip(KEYS, COLORS):
        mx, my = path(globals()[f"{prefix}_{key}_MED"], stepped)
        p.line(mx, my, line_color=col, line_width=3, line_join="round")
    return p


p1 = panel("LO", PANELS[0], YT_LO, (-2.937, 0.139), 352, 75, 2, True, "Δχ / χ₀")
p2 = panel("NLO", PANELS[1], YT_NLO, (-3.603, 0.17), 328, 52, 2, True)
p3 = panel("NN", PANELS[2], YT_NN, (-4.555, 5.437), 329, 53, 2, False)
p4 = panel("FA", PANELS[3], YT_FA, (-4.537, 6.41), 334, 53, 7, False)

leg = figure(width=1343, height=64, output_backend="svg", toolbar_location=None,
             min_border=0, outline_line_color=None, x_range=Range1d(0, 1), y_range=Range1d(0, 1))
leg.axis.visible = False
leg.grid.visible = False
LEGEND_X = [320, 489, 640, 792, 942]
for c, lx in enumerate(LEGEND_X):
    items = []
    for chi, col in zip(CHI[2 * c:2 * c + 2], COLORS[2 * c:2 * c + 2]):
        r = leg.line([-2, -1], [-2, -1], line_color=col, line_width=2.7)
        items.append(LegendItem(label=f"χ₀ ={chi}", renderers=[r]))
    leg.add_layout(Legend(items=items, orientation="vertical", location=(lx, 9),
                          border_line_color=None, background_fill_alpha=0,
                          label_text_font=SERIF, label_text_font_size="20px", label_text_color=INK,
                          glyph_width=40, glyph_height=20, label_standoff=13, spacing=5, margin=0, padding=2),
                   "center")

page = column(leg, row(p1, p2, p3, p4, spacing=0), spacing=0)
open("out.html", "w").write(file_html(page, INLINE))
